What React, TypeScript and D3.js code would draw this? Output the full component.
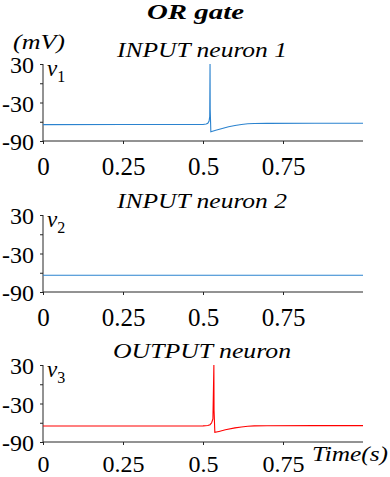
import React, { useEffect, useRef } from "react";
import * as d3 from "d3";

// time axis (s)
const xTicks = [0, 0.25, 0.5, 0.75];
const xTickLabels = ["0", "0.25", "0.5", "0.75"];
const yTicks = [30, 0, -30, -60, -90];
const yTickLabels = ["30", "", "-30", "", "-90"];

// membrane potential traces (mV)
const time1 = [0, 0.25, 0.5, 0.51, 0.515, 0.519, 0.521, 0.522, 0.5225, 0.5245, 0.54, 0.56, 0.58, 0.6, 0.62, 0.64, 0.66, 0.7, 0.85, 1.0];
const volt1 = [-64.5, -64.4, -64.2, -63.6, -62.5, -59, -52, 30, -40, -75.5, -73.2, -70.4, -67.8, -65.8, -64.2, -63.2, -62.7, -62.5, -62.4, -62.4];

const time2 = [0, 0.25, 0.5, 0.75, 1.0];
const volt2 = [-64, -64, -64, -64, -64];

const time3 = [0, 0.25, 0.5, 0.515, 0.522, 0.527, 0.531, 0.534, 0.5345, 0.537, 0.55, 0.57, 0.6, 0.62, 0.64, 0.66, 0.7, 0.85, 1.0];
const volt3 = [-65, -65, -64.8, -64.4, -63, -60, -54, 30, -40, -75, -73.5, -71, -68, -66.5, -65.4, -64.8, -64.6, -64.5, -64.5];

const panels = [
  { title: "INPUT neuron 1", titleW: 170, sub: "1", t: time1, v: volt1, color: "#2b83cf", top: 64 },
  { title: "INPUT neuron 2", titleW: 170, sub: "2", t: time2, v: volt2, color: "#2b83cf", top: 215 },
  { title: "OUTPUT neuron", titleW: 178, sub: "3", t: time3, v: volt3, color: "#ff0000", top: 365 },
];

const SERIF = "Liberation Serif";

const App = () => {
  const ref = useRef(null);

  useEffect(() => {
    const width = 390;
    const height = 477;
    const left = 43;
    const right = 363;
    const panelH = 77;
    const axisColor = "#262626";

    d3.select(ref.current).selectAll("*").remove();

    const svg = d3
      .select(ref.current)
      .append("svg")
      .attr("width", width)
      .attr("height", height)
      .style("position", "absolute")
      .style("left", 0)
      .style("top", 0);

    svg.append("rect").attr("width", width).attr("height", height).attr("fill", "#fff");

    const x = d3.scaleLinear().domain([0, 1]).range([left, right]);

    // main title
    svg
      .append("text")
      .attr("x", 147)
      .attr("y", 19)
      .attr("font-family", SERIF)
      .attr("font-size", 22)
      .attr("font-weight", "bold")
      .attr("font-style", "italic")
      .attr("textLength", 97)
      .attr("lengthAdjust", "spacingAndGlyphs")
      .text("OR gate");

    // unit label
    svg
      .append("text")
      .attr("x", 13)
      .attr("y", 49)
      .attr("font-family", SERIF)
      .attr("font-size", 21)
      .attr("font-style", "italic")
      .attr("textLength", 52)
      .attr("lengthAdjust", "spacingAndGlyphs")
      .text("(mV)");

    panels.forEach((p, i) => {
      const y = d3.scaleLinear().domain([-90, 30]).range([p.top + panelH, p.top]);
      const g = svg.append("g");

      // title
      g.append("text")
        .attr("x", 202 - p.titleW / 2)
        .attr("y", p.top - 7)
        .attr("font-family", SERIF)
        .attr("font-size", 22)
        .attr("font-style", "italic")
        .attr("textLength", p.titleW)
        .attr("lengthAdjust", "spacingAndGlyphs")
        .text(p.title);

      // y axis
      const yAxis = g
        .append("g")
        .attr("transform", `translate(${left},0)`)
        .call(
          d3
            .axisLeft(y)
            .tickValues(yTicks)
            .tickSize(3)
            .tickPadding(6)
            .tickFormat((d, k) => yTickLabels[k])
        )
        .attr("font-family", SERIF);
      yAxis.select(".domain").attr("stroke", axisColor).attr("d", `M0,${p.top}V${p.top + panelH}`);
      yAxis.selectAll(".tick line").attr("stroke", axisColor);
      yAxis
        .selectAll("text")
        .attr("font-size", 24)
        .attr("fill", "#000")
        .attr("dy", "0.36em");

      // x axis
      const xAxis = g
        .append("g")
        .attr("transform", `translate(0,${p.top + panelH})`)
        .call(
          d3
            .axisBottom(x)
            .tickValues(xTicks)
            .tickSize(3)
            .tickPadding(i === 2 ? 10 : 13)
            .tickFormat((d, k) => xTickLabels[k])
        )
        .attr("font-family", SERIF);
      xAxis.select(".domain").attr("stroke", axisColor).attr("d", `M${left},0H${right}`);
      xAxis.selectAll(".tick line").attr("stroke", axisColor);
      xAxis
        .selectAll("text")
        .attr("font-size", i === 2 ? 24 : 25)
        .attr("fill", "#000");

      // trace
      const line = d3
        .line<number>()
        .x((d, k) => x(p.t[k]))
        .y((d) => y(d));
      g.append("path")
        .datum(p.v)
        .attr("d", line)
        .attr("fill", "none")
        .attr("stroke", p.color)
        .attr("stroke-width", 1.1);

      // v_i label
      const lab = g
        .append("text")
        .attr("x", 47)
        .attr("y", p.top + 12)
        .attr("font-family", SERIF)
        .attr("font-size", 23)
        .attr("font-style", "italic");
      lab.append("tspan").text("v");
      lab
        .append("tspan")
        .attr("font-style", "normal")
        .attr("font-size", 16)
        .attr("dy", 6)
        .text(p.sub);

      if (i === panels.length - 1) {
        svg
          .append("text")
          .attr("x", 312)
          .attr("y", p.top + panelH + 19)
          .attr("font-family", SERIF)
          .attr("font-size", 22)
          .attr("font-style", "italic")
          .attr("textLength", 76)
          .attr("lengthAdjust", "spacingAndGlyphs")
          .text("Time(s)");
      }
    });
  }, []);

  return <div ref={ref} />;
};

export default App;
